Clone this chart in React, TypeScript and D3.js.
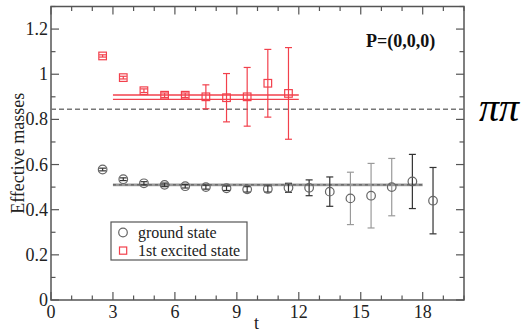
import * as d3 from "d3";
import { useEffect, useRef } from "react";

// ground state effective masses (black circles)
const tGround = [2.5, 3.5, 4.5, 5.5, 6.5, 7.5, 8.5, 9.5, 10.5, 11.5, 12.5, 13.5, 14.5, 15.5, 16.5, 17.5, 18.5];
const groundMass = [0.578, 0.535, 0.517, 0.51, 0.504, 0.5, 0.495, 0.49, 0.492, 0.497, 0.497, 0.48, 0.45, 0.462, 0.5, 0.525, 0.44];
const groundErr = [0.006, 0.006, 0.007, 0.008, 0.008, 0.009, 0.01, 0.012, 0.014, 0.02, 0.035, 0.065, 0.116, 0.143, 0.127, 0.12, 0.147];
const groundErrLight = [false, false, false, false, false, false, false, false, false, false, false, false, true, true, true, false, false];

// 1st excited state (red squares)
const tExcited = [2.5, 3.5, 4.5, 5.5, 6.5, 7.5, 8.5, 9.5, 10.5, 11.5];
const excitedMass = [1.081, 0.985, 0.927, 0.907, 0.907, 0.9, 0.896, 0.9, 0.96, 0.915];
const excitedErr = [0.005, 0.006, 0.008, 0.01, 0.01, 0.053, 0.107, 0.13, 0.15, 0.203];

// fit results
const groundFit = { from: 3, to: 18, lo: 0.504, hi: 0.516 };
const excitedFit = { from: 3, to: 12, lo: 0.889, hi: 0.908 };
const threshold = 0.845;

const xTicks = [0, 3, 6, 9, 12, 15, 18];
const yTicks = [0, 0.2, 0.4, 0.6, 0.8, 1, 1.2];

const App = () => {
  const ref = useRef<SVGSVGElement>(null);

  useEffect(() => {
    const svg = d3.select(ref.current);
    svg.selectAll("*").remove();

    const left = 51, right = 464, top = 6.5, bottom = 300;
    const x = d3.scaleLinear().domain([0, 20]).range([left, right]);
    const y = d3.scaleLinear().domain([0, 1.3]).range([bottom, top]);
    const serif = "Liberation Serif";
    const frameColor = "#555";

    // ticks (inward, on all four sides)
    const tk = svg.append("g").attr("stroke", frameColor).attr("stroke-width", 1.2);
    d3.range(0, 21, 1).forEach((v) => {
      const len = v % 3 === 0 ? 8 : 4.5;
      tk.append("line").attr("x1", x(v)).attr("x2", x(v)).attr("y1", bottom).attr("y2", bottom - len);
      tk.append("line").attr("x1", x(v)).attr("x2", x(v)).attr("y1", top).attr("y2", top + len);
    });
    d3.range(0, 14, 1).forEach((i) => {
      const v = i / 10;
      const len = i % 2 === 0 ? 8 : 4.5;
      tk.append("line").attr("x1", left).attr("x2", left + len).attr("y1", y(v)).attr("y2", y(v));
      tk.append("line").attr("x1", right).attr("x2", right - len).attr("y1", y(v)).attr("y2", y(v));
    });

    // frame
    svg.append("rect")
      .attr("x", left).attr("y", top)
      .attr("width", right - left).attr("height", bottom - top)
      .attr("fill", "none").attr("stroke", frameColor).attr("stroke-width", 1.5);

    // tick labels
    svg.append("g").selectAll("text").data(xTicks).join("text")
      .attr("x", (d) => x(d)).attr("y", 318)
      .attr("text-anchor", "middle")
      .attr("font-family", serif).attr("font-size", 18).attr("fill", "#222")
      .text((d) => d);
    svg.append("g").selectAll("text").data(yTicks).join("text")
      .attr("x", 48).attr("y", (d) => y(d) + 6)
      .attr("text-anchor", "end")
      .attr("font-family", serif).attr("font-size", 18).attr("fill", "#222")
      .text((d) => d3.format("~g")(d));

    // axis titles
    svg.append("text")
      .attr("transform", `translate(24,${(top + bottom) / 2}) rotate(-90)`)
      .attr("text-anchor", "middle")
      .attr("font-family", serif).attr("font-size", 18).attr("fill", "#222")
      .text("Effective masses");
    svg.append("text")
      .attr("x", (left + right) / 2 - 1).attr("y", 329)
      .attr("text-anchor", "middle")
      .attr("font-family", serif).attr("font-size", 18).attr("fill", "#222")
      .text("t");

    // threshold dashed line
    svg.append("line")
      .attr("x1", left).attr("x2", right)
      .attr("y1", y(threshold)).attr("y2", y(threshold))
      .attr("stroke", "#777").attr("stroke-width", 1.6).attr("stroke-dasharray", "5,3");

    // ground state fit band
    svg.append("rect")
      .attr("x", x(groundFit.from)).attr("width", x(groundFit.to) - x(groundFit.from))
      .attr("y", y(groundFit.hi)).attr("height", y(groundFit.lo) - y(groundFit.hi))
      .attr("fill", "#999");
    svg.append("line")
      .attr("x1", x(groundFit.from)).attr("x2", x(groundFit.to))
      .attr("y1", y((groundFit.lo + groundFit.hi) / 2)).attr("y2", y((groundFit.lo + groundFit.hi) / 2))
      .attr("stroke", "#555").attr("stroke-width", 1).attr("stroke-dasharray", "3,3");

    // excited state fit lines
    const red = "#f2404c";
    [excitedFit.lo, excitedFit.hi].forEach((v) => {
      svg.append("line")
        .attr("x1", x(excitedFit.from)).attr("x2", x(excitedFit.to))
        .attr("y1", y(v)).attr("y2", y(v))
        .attr("stroke", red).attr("stroke-width", 1.3);
    });

    const cap = 3.5;
    // ground state points
    const g = svg.append("g");
    tGround.forEach((t, i) => {
      const cx = x(t), m = groundMass[i], e = groundErr[i];
      const c = groundErrLight[i] ? "#9a9a9a" : "#333";
      g.append("line").attr("x1", cx).attr("x2", cx).attr("y1", y(m - e)).attr("y2", y(m + e)).attr("stroke", c).attr("stroke-width", 1.2);
      [m - e, m + e].forEach((v) =>
        g.append("line").attr("x1", cx - cap).attr("x2", cx + cap).attr("y1", y(v)).attr("y2", y(v)).attr("stroke", c).attr("stroke-width", 1.2)
      );
      g.append("circle").attr("cx", cx).attr("cy", y(m)).attr("r", 4.3)
        .attr("fill", "none").attr("stroke", "#666").attr("stroke-width", 1.2);
    });

    // excited state points
    const r = svg.append("g");
    tExcited.forEach((t, i) => {
      const cx = x(t), m = excitedMass[i], e = excitedErr[i];
      r.append("line").attr("x1", cx).attr("x2", cx).attr("y1", y(m - e)).attr("y2", y(m + e)).attr("stroke", red).attr("stroke-width", 1.2);
      [m - e, m + e].forEach((v) =>
        r.append("line").attr("x1", cx - cap).attr("x2", cx + cap).attr("y1", y(v)).attr("y2", y(v)).attr("stroke", red).attr("stroke-width", 1.2)
      );
      r.append("rect").attr("x", cx - 3.8).attr("y", y(m) - 3.8).attr("width", 7.6).attr("height", 7.6)
        .attr("fill", "none").attr("stroke", red).attr("stroke-width", 1.2);
    });

    // legend
    const lg = svg.append("g");
    lg.append("rect").attr("x", 111).attr("y", 222).attr("width", 136).attr("height", 38)
      .attr("fill", "white").attr("stroke", "#555").attr("stroke-width", 1.2);
    lg.append("circle").attr("cx", 123).attr("cy", 232.5).attr("r", 4.3)
      .attr("fill", "none").attr("stroke", "#666").attr("stroke-width", 1.2);
    lg.append("rect").attr("x", 119.5).attr("y", 247).attr("width", 7.2).attr("height", 7.2)
      .attr("fill", "none").attr("stroke", red).attr("stroke-width", 1.2);
    lg.append("text").attr("x", 138).attr("y", 237.5)
      .attr("font-family", serif).attr("font-size", 16).attr("fill", "#222").text("ground state");
    lg.append("text").attr("x", 138).attr("y", 255.5)
      .attr("font-family", serif).attr("font-size", 16).attr("fill", "#222").text("1st excited state");

    // annotations
    svg.append("text").attr("x", 366).attr("y", 47)
      .attr("font-family", serif).attr("font-weight", "bold").attr("font-size", 18).attr("fill", "#111")
      .text("P=(0,0,0)");
    svg.append("text").attr("x", 479).attr("y", 121)
      .attr("font-family", serif).attr("font-style", "italic").attr("font-size", 40).attr("fill", "#000")
      .text("ππ");
  });

  return <svg width={526} height={333} ref={ref} style={{ position: "absolute", left: 0, top: 0, background: "white" }} />;
};

export default App;
